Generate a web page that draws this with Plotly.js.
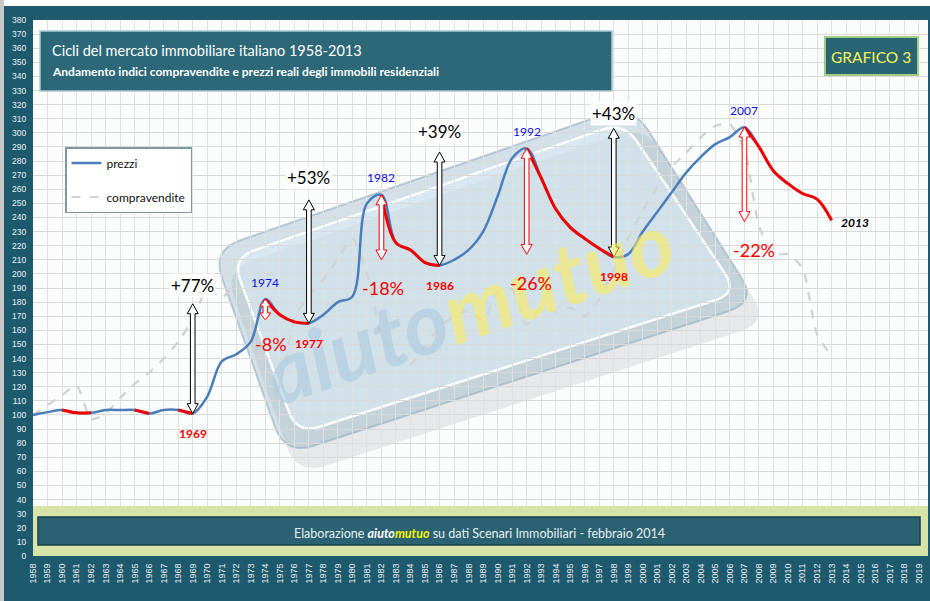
<!DOCTYPE html>
<html><head><meta charset="utf-8">
<script src="https://cdn.plot.ly/plotly-3.0.1.min.js"></script>
<style>html,body{margin:0;padding:0;background:#1e5a6e;}#chart{width:930px;height:601px;}</style>
</head><body><div id="chart"></div>
<script>
const years = [1958,1959,1960,1961,1962,1963,1964,1965,1966,1967,1968,1969,1970,1971,1972,1973,1974,1975,1976,1977,1978,1979,1980,1981,1982,1983,1984,1985,1986,1987,1988,1989,1990,1991,1992,1993,1994,1995,1996,1997,1998,1999,2000,2001,2002,2003,2004,2005,2006,2007,2008,2009,2010,2011,2012,2013];
const prezzi = [100,102,103.5,101.5,101.5,103.5,103.5,103.5,101,103.5,103.5,101,113,138,143,152,182,171,166,165,171,180,184,250,256,222,217,208,206,210,217,230,255,282,289,268,246,233,225,218,212,214,230,244,258,272,283,292,297,304,290,273,264,257,253,238];
const compravendite = [100,107,114,121,97,101,112,122,130,140,152,168,189,183,193,160,134,125,168,185,196,211,225,200,157,140,136,149,162,170,174,167,187,189,164,176,173,176,170,182,203,225,245,262,276,286,297,305,306,288,234,214,214,204,157,142];
const tickYears = [1958,1959,1960,1961,1962,1963,1964,1965,1966,1967,1968,1969,1970,1971,1972,1973,1974,1975,1976,1977,1978,1979,1980,1981,1982,1983,1984,1985,1986,1987,1988,1989,1990,1991,1992,1993,1994,1995,1996,1997,1998,1999,2000,2001,2002,2003,2004,2005,2006,2007,2008,2009,2010,2011,2012,2013,2014,2015,2016,2017,2018,2019];
const tickLabels = ["1958","1959","1960","1961","1962","1963","1964","1965","1966","1967","1968","1969","1970","1971","1972","1973","1974","1975","1976","1977","1978","1979","1980","1981","1982","1983","1984","1985","1986","1987","1988","1989","1990","1991","1992","1993","1994","1995","1996","1997","1998","1999","2000","2001","2002","2003","2004","2005","2006","2007","2008","2009","2010","2011","2012","2013","2014","2015","2016","2017","2018","2019"];
const declineStart = [1960,1965,1968,1974,1982,1992,2007];
const declineEnd   = [1962,1966,1969,1977,1986,1998,2013];
const riseYears = [1969,1977,1986,1998];
const risePct   = [77,53,39,43];
const fallYears = [1974,1982,1992,2007];
const fallPct   = [8,18,26,22];

const FONT = 'Lato, sans-serif';
const RED = '#f20000', BLUE = '#4a7ebb', GRAY = '#d2d2d2', TEAL = '#1e5a6e';
const L = 33, R = 2, T = 20, B = 45, W = 930, H = 601;
const PW = W - L - R, PH = H - T - B;
const px = x => (x - L) / PW;
const py = y => (H - B - y) / PH;
const val = yr => prezzi[years.indexOf(yr)];

const traces = [];
traces.push({x: years, y: compravendite, name: 'compravendite', type: 'scatter', mode: 'lines',
  line: {color: GRAY, width: 2.2, dash: 'dash', shape: 'spline', smoothing: 0.6},
  legendrank: 2, legendgroup: 'b', hoverinfo: 'skip'});
traces.push({x: years, y: prezzi, name: 'prezzi', type: 'scatter', mode: 'lines',
  line: {color: BLUE, width: 2.5, shape: 'spline', smoothing: 1},
  legendrank: 1, legendgroup: 'a', hoverinfo: 'skip'});
declineStart.forEach((s, i) => {
  const xs = [], ys = [];
  years.forEach((yr, k) => { if (yr >= s && yr <= declineEnd[i]) { xs.push(yr); ys.push(prezzi[k]); } });
  traces.push({x: xs, y: ys, type: 'scatter', mode: 'lines', showlegend: false, hoverinfo: 'skip',
    line: {color: RED, width: 3, shape: 'spline', smoothing: 1}});
});

function roundPath(pts, r) {
  const n = pts.length; let d = '';
  const lerp = (a, b, t) => [a[0] + (b[0] - a[0]) * t, a[1] + (b[1] - a[1]) * t];
  const dist = (a, b) => Math.hypot(b[0] - a[0], b[1] - a[1]);
  for (let i = 0; i < n; i++) {
    const p0 = pts[(i - 1 + n) % n], p1 = pts[i], p2 = pts[(i + 1) % n];
    const a = lerp(p1, p0, r / dist(p1, p0)), b = lerp(p1, p2, r / dist(p1, p2));
    d += (i === 0 ? 'M' : 'L') + px(a[0]) + ',' + py(a[1]);
    d += 'Q' + px(p1[0]) + ',' + py(p1[1]) + ' ' + px(b[0]) + ',' + py(b[1]);
  }
  return d + 'Z';
}
const shift = (pts, dx, dy) => pts.map(p => [p[0] + dx, p[1] + dy]);
const outer = [[212,250],[632,105],[757,302],[285,455]];
const inner = [[232,258],[624,122],[738,293],[297,434]];

const shapes = [];
shapes.push({type: 'path', xref: 'paper', yref: 'paper', layer: 'between', path: roundPath(shift(outer, 12, 20), 30),
  fillcolor: 'rgba(80,90,100,0.12)', line: {width: 0}});
shapes.push({type: 'path', xref: 'paper', yref: 'paper', layer: 'between', path: roundPath(outer, 30),
  fillcolor: 'rgba(120,160,185,0.30)', line: {color: 'rgba(140,170,190,0.55)', width: 2}});
shapes.push({type: 'path', xref: 'paper', yref: 'paper', layer: 'between', path: roundPath(inner, 24),
  fillcolor: 'rgba(220,237,248,0.55)', line: {color: 'rgba(255,255,255,0.9)', width: 2.5}});

function arrowPath(x, y0, y1) {
  const bw = 2.3 / 14.52, hw = 5.5 / 14.52, hl = Math.min(7, Math.abs(y1 - y0) / 3);
  const lo = Math.min(y0, y1), hi = Math.max(y0, y1);
  return 'M' + (x - bw) + ',' + (lo + hl) + 'L' + (x - hw) + ',' + (lo + hl) + 'L' + x + ',' + lo +
    'L' + (x + hw) + ',' + (lo + hl) + 'L' + (x + bw) + ',' + (lo + hl) + 'L' + (x + bw) + ',' + (hi - hl) +
    'L' + (x + hw) + ',' + (hi - hl) + 'L' + x + ',' + hi + 'L' + (x - hw) + ',' + (hi - hl) +
    'L' + (x - bw) + ',' + (hi - hl) + 'Z';
}
riseYears.forEach((yr, i) => {
  const v0 = val(yr), v1 = v0 * (1 + risePct[i] / 100);
  shapes.push({type: 'path', xref: 'x', yref: 'y', layer: 'above', path: arrowPath(yr, v0, v1),
    fillcolor: 'white', line: {color: 'black', width: 1}});
});
fallYears.forEach((yr, i) => {
  const v0 = val(yr), v1 = v0 * (1 - fallPct[i] / 100);
  shapes.push({type: 'path', xref: 'x', yref: 'y', layer: 'above', path: arrowPath(yr, v0, v1),
    fillcolor: 'white', line: {color: RED, width: 1}});
});

shapes.push({type: 'rect', xref: 'paper', yref: 'paper', layer: 'above', x0: px(33), x1: px(928), y0: py(506), y1: py(556),
  fillcolor: '#d6e4a8', line: {width: 0}});
shapes.push({type: 'rect', xref: 'paper', yref: 'paper', layer: 'above', x0: px(38), x1: px(920), y0: py(517), y1: py(545),
  fillcolor: '#2a6272', line: {color: '#173f4b', width: 1.5}});
shapes.push({type: 'rect', xref: 'paper', yref: 'paper', layer: 'above', x0: px(40), x1: px(612), y0: py(31), y1: py(91),
  fillcolor: '#2c6877', line: {color: '#a9c9d3', width: 1.5}});
shapes.push({type: 'rect', xref: 'paper', yref: 'paper', layer: 'above', x0: px(825), x1: px(918), y0: py(37), y1: py(75),
  fillcolor: '#2a6574', line: {color: '#9dcf84', width: 2}});
shapes.push({type: 'rect', xref: 'paper', yref: 'paper', layer: 'above', x0: px(0), x1: px(930), y0: py(0), y1: py(6),
  fillcolor: 'white', line: {width: 0}});
shapes.push({type: 'rect', xref: 'paper', yref: 'paper', layer: 'above', x0: px(0), x1: px(4), y0: py(0), y1: py(601),
  fillcolor: '#c8c8c8', line: {width: 0}});

const ann = [];
const P = (x, y, text, font, extra) => ann.push(Object.assign({xref: 'paper', yref: 'paper', x: px(x), y: py(y),
  xanchor: 'center', yanchor: 'middle', showarrow: false, text: text, font: font}, extra || {}));
P(468, 305, '<b><i><span style="color:rgba(165,200,222,0.55)">aiuto</span><span style="color:rgba(250,236,90,0.6)">mutuo</span></i></b>',
  {family: FONT, size: 86}, {textangle: -19});
P(50, 50, 'Cicli del mercato immobiliare italiano 1958-2013', {family: FONT, size: 14.5, color: 'white'}, {xanchor: 'left'});
P(50, 72, '<b>Andamento indici compravendite e prezzi reali degli immobili residenziali</b>', {family: FONT, size: 12, color: 'white'}, {xanchor: 'left'});
P(871, 57, 'GRAFICO 3', {family: FONT, size: 15.5, color: '#f4f25a'});
P(479, 533, 'Elaborazione <b><i><span style="color:#ffffff">aiuto</span><span style="color:#f6f200">mutuo</span></i></b> su dati Scenari Immobiliari - febbraio 2014',
  {family: FONT, size: 12.5, color: '#e6eef0'});

function lab(x, y, text, color, size, dx, dy, extra) {
  ann.push(Object.assign({xref: 'x', yref: 'y', x: x, y: y, text: text, showarrow: false,
    xanchor: 'center', yanchor: 'middle',
    xshift: dx, yshift: dy, font: {family: FONT, size: size, color: color}}, extra || {}));
}
const riseText = riseYears.map((y, i) => '+' + risePct[i] + '%');
const fallText = fallYears.map((y, i) => '-' + fallPct[i] + '%');
const riseDy = [18, 22, 21, 15];
riseYears.forEach((yr, i) => {
  lab(yr, val(yr) * (1 + risePct[i] / 100), riseText[i], 'black', 17, 0, riseDy[i], {bgcolor: 'rgba(255,255,255,0.9)'});
  lab(yr, val(yr), '<b>' + yr + '</b>', RED, 12, 0, -20);
});
const fallDx = [6, 2, 4, 10], fallDy = [-24, -28, -29, -28];
fallYears.forEach((yr, i) => {
  lab(yr, val(yr) * (1 - fallPct[i] / 100), fallText[i], RED, 18, fallDx[i], fallDy[i]);
  lab(yr, val(yr), String(yr), '#1010e0', 12, 0, 17);
});
lab(2013, val(2013), '<b><i>2013</i></b>', 'black', 12, 23, -2);

const layout = {
  width: W, height: H, margin: {l: L, r: R, t: T, b: B},
  paper_bgcolor: TEAL, plot_bgcolor: '#fbfcfc',
  font: {family: FONT},
  showlegend: true,
  legend: {x: px(65), y: py(147), xanchor: 'left', yanchor: 'top', bgcolor: 'white',
    bordercolor: '#7d98a0', borderwidth: 1.5, font: {family: FONT, size: 12, color: '#111'},
    tracegroupgap: 15, traceorder: 'grouped', itemwidth: 30},
  xaxis: {range: [1958, 2019.64], tickmode: 'array', tickvals: tickYears, ticktext: tickLabels,
    tickangle: -90, tickfont: {family: 'Liberation Sans, Arial, sans-serif', size: 9, color: '#e8eef0'},
    showgrid: true, gridcolor: '#e0e0e0', gridwidth: 1, zeroline: false, showline: false,
    ticks: 'outside', ticklen: 3, tickcolor: TEAL, fixedrange: true},
  yaxis: {range: [0, 380], dtick: 10, tick0: 0, tickfont: {family: 'Liberation Sans, Arial, sans-serif', size: 8.5, color: '#e8eef0'},
    showgrid: true, gridcolor: '#d9d9d9', gridwidth: 1, zeroline: false, showline: false,
    ticks: 'outside', ticklen: 4, tickcolor: TEAL, fixedrange: true},
  shapes: shapes, annotations: ann
};
Plotly.newPlot('chart', traces, layout, {displayModeBar: false, staticPlot: true});
</script></body></html>
